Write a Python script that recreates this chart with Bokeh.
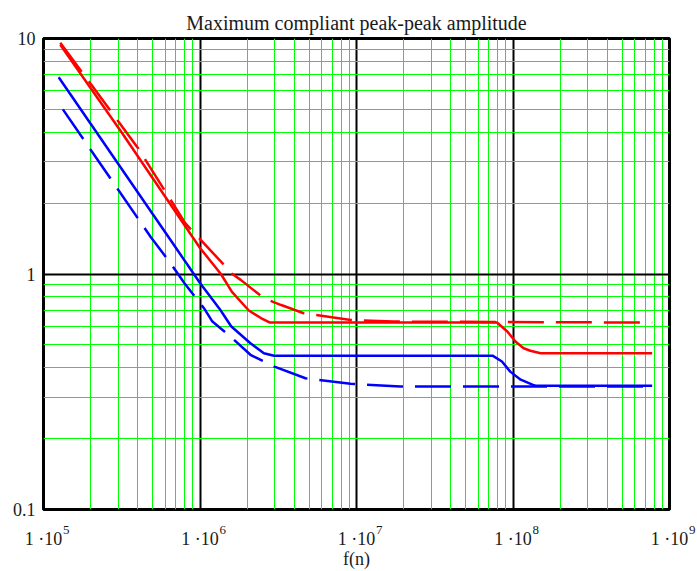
from bokeh.plotting import figure
from bokeh.models import Range1d, FixedTicker, LogAxis
from bokeh.embed import file_html
from bokeh.resources import INLINE

title_text = "Maximum compliant peak-peak amplitude"
x_label = "f(n)"
x_ticks = [1e5, 1e6, 1e7, 1e8, 1e9]
x_tick_labels = ["1 \u00b710", "1 \u00b710", "1 \u00b710", "1 \u00b710", "1 \u00b710"]
x_tick_exponents = ["5", "6", "7", "8", "9"]
y_ticks = [0.1, 1.0, 10.0]
y_tick_labels = ["0.1", "1", "10"]

red_solid_f = [1.28e5, 3.2e5, 1.0e6, 1.36e6, 1.6e6, 2.05e6, 2.45e6, 2.8e6, 7.9e7, 9.2e7, 1.04e8, 1.17e8, 1.29e8, 1.5e8, 7.75e8]
red_solid_a = [9.4, 3.94, 1.29, 1.0, 0.84, 0.70, 0.65, 0.622, 0.622, 0.57, 0.516, 0.484, 0.472, 0.461, 0.461]

red_dash_f = [1.28e5, 4.0e5, 8.07e5, 1.06e6, 1.61e6, 1.82e6, 2.56e6, 3.27e6, 4.6e6, 9.2e6, 1.72e7, 7.75e8]
red_dash_a = [9.6, 3.44, 1.64, 1.35, 1.0, 0.944, 0.789, 0.74, 0.681, 0.638, 0.628, 0.622]

blue_solid_f = [1.25e5, 6.5e5, 1.0e6, 1.35e6, 1.58e6, 2.1e6, 2.56e6, 2.97e6, 7.4e7, 8.5e7, 9.6e7, 1.12e8, 1.33e8, 1.41e8, 7.75e8]
blue_solid_a = [6.85, 1.39, 0.916, 0.703, 0.60, 0.508, 0.461, 0.45, 0.45, 0.425, 0.385, 0.356, 0.339, 0.335, 0.335]

blue_dash_f = [1.33e5, 4.83e5, 6.49e5, 7.96e5, 1.06e6, 1.2e6, 1.57e6, 2.1e6, 2.56e6, 2.96e6, 4.72e6, 9.16e6, 1.91e7, 7.75e8]
blue_dash_a = [5.0, 1.44, 1.11, 0.914, 0.716, 0.628, 0.542, 0.454, 0.425, 0.405, 0.361, 0.342, 0.333, 0.333]

serif = "Liberation Serif"
text_col = "#1a1a1a"

p = figure(width=697, height=571, x_axis_type="log", y_axis_type="log",
           x_range=Range1d(1e5, 1e9), y_range=Range1d(0.1, 10),
           output_backend="svg", toolbar_location=None,
           min_border_left=43, min_border_right=28, min_border_top=38, min_border_bottom=61,
           background_fill_color="white", border_fill_color="white")

p.title.text = title_text
p.title.align = "center"
p.title.text_font = serif
p.title.text_font_size = "20px"
p.title.text_font_style = "normal"
p.title.text_color = text_col
p.title.standoff = 9

x_minor = [m * 10 ** d for d in range(5, 9) for m in range(2, 10)]
y_minor = [m * 10.0 ** d for d in range(-1, 1) for m in range(2, 10)]
p.xaxis.ticker = FixedTicker(ticks=x_ticks, minor_ticks=x_minor)
p.yaxis.ticker = FixedTicker(ticks=y_ticks, minor_ticks=y_minor)
p.yaxis.major_label_overrides = dict(zip(y_ticks, y_tick_labels))

# exponent row (closest to the frame), padded so it sits right of "1 ·10"
pad = "\u2007" * 7
p.xaxis.major_label_overrides = {t: pad + e for t, e in zip(x_ticks, x_tick_exponents)}

main_xaxis = LogAxis(ticker=FixedTicker(ticks=x_ticks),
                     major_label_overrides=dict(zip(x_ticks, x_tick_labels)))
p.add_layout(main_xaxis, "below")

for ax in (p.xaxis[0], p.yaxis[0], main_xaxis):
    ax.axis_line_color = None
    ax.major_tick_line_color = None
    ax.minor_tick_line_color = None
    ax.major_tick_out = 0
    ax.major_tick_in = 0
    ax.minor_tick_out = 0
    ax.minor_tick_in = 0
    ax.major_label_text_font = serif
    ax.major_label_text_font_size = "18px"
    ax.major_label_text_color = text_col

p.xaxis[0].major_label_text_font_size = "13px"
p.xaxis[0].major_label_standoff = 12
main_xaxis.major_label_standoff = -11
p.yaxis[0].major_label_standoff = 8
main_xaxis.axis_label = x_label
main_xaxis.axis_label_text_font = serif
main_xaxis.axis_label_text_font_size = "18px"
main_xaxis.axis_label_text_font_style = "normal"
main_xaxis.axis_label_text_color = text_col
main_xaxis.axis_label_standoff = -3

for g in (p.xgrid, p.ygrid):
    g.grid_line_color = "black"
    g.grid_line_width = 2
    g.grid_line_alpha = 1.0
    g.minor_grid_line_color = "#00ff00"
    g.minor_grid_line_width = 1

p.outline_line_color = "black"
p.outline_line_width = 3
p.outline_line_alpha = 1.0

lw = 2.5
p.line(red_solid_f, red_solid_a, line_color="#ff0000", line_width=lw)
p.line(red_dash_f, red_dash_a, line_color="#ff0000", line_width=lw, line_dash="36 12")
p.line(blue_solid_f, blue_solid_a, line_color="#0000ff", line_width=lw)
p.line(blue_dash_f, blue_dash_a, line_color="#0000ff", line_width=lw, line_dash="36 12")

open("out.html", "w").write(file_html(p, INLINE))
